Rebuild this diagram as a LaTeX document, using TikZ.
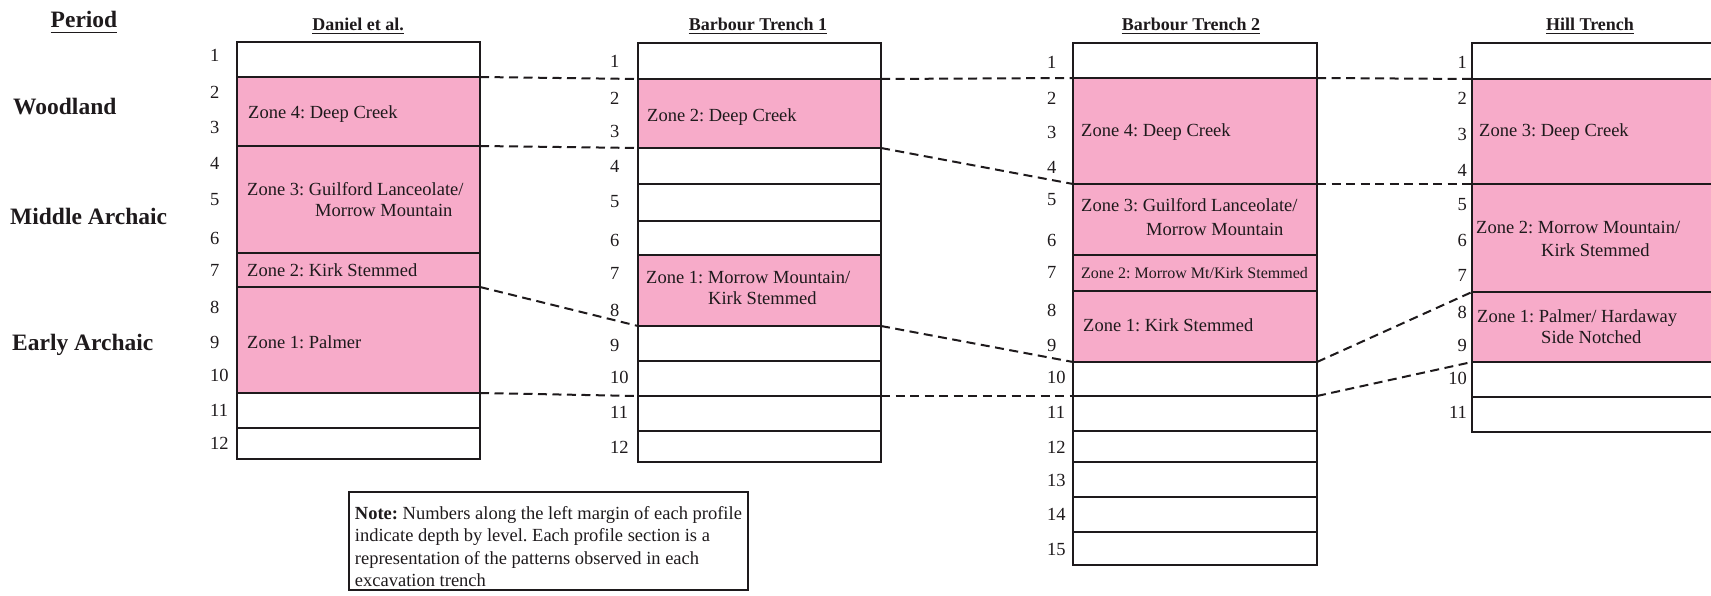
\documentclass[tikz,border=0pt]{standalone}
\usepackage{fontspec}
\setmainfont{Liberation Serif}
\frenchspacing
\definecolor{zonepink}{RGB}{247,171,201}
\definecolor{ink}{RGB}{30,26,28}
\tikzset{
  cell/.style={rectangle, draw=ink, line width=1.9pt, inner sep=0pt, outer sep=0pt,
               anchor=north west, fill=white},
  zonecell/.style={cell, fill=zonepink},
  num/.style={anchor=west, inner sep=0pt, text=ink, font=\fontsize{18.5}{22}\selectfont},
  numr/.style={num, anchor=east},
  zlabel/.style={anchor=west, inner sep=0pt, text=ink, text height=12.2pt, text depth=0pt,
                 font=\fontsize{18.5}{22}\selectfont},
  zsmall/.style={zlabel, text height=10.6pt, font=\fontsize{16}{19}\selectfont},
  head/.style={anchor=base, inner sep=0pt, text=ink, font=\fontsize{18}{22}\selectfont\bfseries},
  periodhead/.style={head, font=\fontsize{23.5}{28}\selectfont\bfseries},
  period/.style={anchor=west, inner sep=0pt, text=ink, text height=15.6pt, text depth=0pt,
                 font=\fontsize{23.5}{28}\selectfont\bfseries},
  uline/.style={draw=ink, line width=1.5pt},
  link/.style={draw=ink, line width=2pt, dash pattern=on 9pt off 5.5pt},
  notebox/.style={draw=ink, line width=1.9pt, anchor=north west, minimum width=399pt,
                  minimum height=98pt, inner sep=3pt, align=left,
                  text=ink, font=\fontsize{18.5}{22.5}\selectfont},
}
% one level band of a profile: name, left x, top y, bottom y, width, style
\newcommand{\stratum}[6]{\node[#6, minimum width=#5pt, minimum height=#4pt-#3pt] (#1) at (#2,#3) {};}

\begin{document}
\begin{tikzpicture}[x=1pt,y=-1pt]
\useasboundingbox (0,0) rectangle (1711,596);
\clip (0,0) rectangle (1711,596);

% ---------- period column ----------
\node[periodhead] (perh) at (84,28) {Period};
\draw[uline] ([yshift=-4.5pt]perh.base west) -- ([yshift=-4.5pt]perh.base east);
\node[period] (pwood) at (13,107) {Woodland};
\node[period] (pmid) at (10,217) {Middle Archaic};
\node[period] (pearly) at (12,343) {Early Archaic};

% ---------- Daniel et al. ----------
\node[head] (hdan) at (358,31) {Daniel et al.};
\draw[uline] ([yshift=-2.5pt]hdan.base west) -- ([yshift=-2.5pt]hdan.base east);
\stratum{d1}{237}{42}{77}{243}{cell}
\stratum{dz4}{237}{77}{146}{243}{zonecell}
\stratum{dz3}{237}{146}{253}{243}{zonecell}
\stratum{dz2}{237}{253}{287}{243}{zonecell}
\stratum{dz1}{237}{287}{393}{243}{zonecell}
\stratum{d11}{237}{393}{428}{243}{cell}
\stratum{d12}{237}{428}{459}{243}{cell}
\foreach \n/\y in {1/55,2/92,3/127,4/163,5/200,6/238,7/270,8/307,9/342,10/375,11/410,12/443}
  \node[num] (dn\n) at (210,\y) {\n};
\node[zlabel] (dt4) at (248,112) {Zone 4: Deep Creek};
\node[zlabel] (dt3) at (247,189) {Zone 3: Guilford Lanceolate/};
\node[zlabel] (dt3b) at (315,210) {Morrow Mountain};
\node[zlabel] (dt2) at (247,270) {Zone 2: Kirk Stemmed};
\node[zlabel] (dt1) at (247,342) {Zone 1: Palmer};

% ---------- Barbour Trench 1 ----------
\node[head] (hba) at (758,31) {Barbour Trench 1};
\draw[uline] ([yshift=-2.5pt]hba.base west) -- ([yshift=-2.5pt]hba.base east);
\stratum{a1}{638}{43}{79}{243}{cell}
\stratum{az2}{638}{79}{148}{243}{zonecell}
\stratum{a4}{638}{148}{184}{243}{cell}
\stratum{a5}{638}{184}{221}{243}{cell}
\stratum{a6}{638}{221}{255}{243}{cell}
\stratum{az1}{638}{255}{326}{243}{zonecell}
\stratum{a9}{638}{326}{361}{243}{cell}
\stratum{a10}{638}{361}{396}{243}{cell}
\stratum{a11}{638}{396}{431}{243}{cell}
\stratum{a12}{638}{431}{462}{243}{cell}
\foreach \n/\y in {1/61,2/98,3/131,4/166,5/202,6/240,7/273,8/310,9/345,10/377,11/412,12/447}
  \node[num] (an\n) at (610,\y) {\n};
\node[zlabel] (at2) at (647,115) {Zone 2: Deep Creek};
\node[zlabel] (at1) at (646,277) {Zone 1: Morrow Mountain/};
\node[zlabel] (at1b) at (708,298) {Kirk Stemmed};

% ---------- Barbour Trench 2 ----------
\node[head] (hbb) at (1191,31) {Barbour Trench 2};
\draw[uline] ([yshift=-2.5pt]hbb.base west) -- ([yshift=-2.5pt]hbb.base east);
\stratum{b1}{1073}{43}{78}{244}{cell}
\stratum{bz4}{1073}{78}{184}{244}{zonecell}
\stratum{bz3}{1073}{184}{255}{244}{zonecell}
\stratum{bz2}{1073}{255}{291}{244}{zonecell}
\stratum{bz1}{1073}{291}{362}{244}{zonecell}
\stratum{b10}{1073}{362}{396}{244}{cell}
\stratum{b11}{1073}{396}{431}{244}{cell}
\stratum{b12}{1073}{431}{462}{244}{cell}
\stratum{b13}{1073}{462}{497}{244}{cell}
\stratum{b14}{1073}{497}{532}{244}{cell}
\stratum{b15}{1073}{532}{565}{244}{cell}
\foreach \n/\y in {1/62,2/98,3/132,4/167,5/200,6/240,7/272,8/310,9/345,10/377,11/412,12/447,13/480,14/514,15/549}
  \node[num] (bn\n) at (1047,\y) {\n};
\node[zlabel] (bt4) at (1081,130) {Zone 4: Deep Creek};
\node[zlabel] (bt3) at (1081,205) {Zone 3: Guilford Lanceolate/};
\node[zlabel] (bt3b) at (1146,229) {Morrow Mountain};
\node[zsmall] (bt2) at (1081,273) {Zone 2: Morrow Mt/Kirk Stemmed};
\node[zlabel] (bt1) at (1083,325) {Zone 1: Kirk Stemmed};

% ---------- Hill Trench ----------
\node[head] (hhill) at (1590,31) {Hill Trench};
\draw[uline] ([yshift=-2.5pt]hhill.base west) -- ([yshift=-2.5pt]hhill.base east);
\stratum{h1}{1472}{43}{79}{250}{cell}
\stratum{hz3}{1472}{79}{184}{250}{zonecell}
\stratum{hz2}{1472}{184}{292}{250}{zonecell}
\stratum{hz1}{1472}{292}{362}{250}{zonecell}
\stratum{h10}{1472}{362}{397}{250}{cell}
\stratum{h11}{1472}{397}{432}{250}{cell}
\foreach \n/\y in {1/62,2/98,3/134,4/170,5/205,6/240,7/275,8/312,9/345,10/378,11/412}
  \node[numr] (hn\n) at (1467,\y) {\n};
\node[zlabel] (ht3) at (1479,130) {Zone 3: Deep Creek};
\node[zlabel] (ht2) at (1476,227) {Zone 2: Morrow Mountain/};
\node[zlabel] (ht2b) at (1541,250) {Kirk Stemmed};
\node[zlabel] (ht1) at (1477,316) {Zone 1: Palmer/ Hardaway};
\node[zlabel] (ht1b) at (1541,337) {Side Notched};

% ---------- correlation lines ----------
\draw[link] (dz4.north east) -- (az2.north west);
\draw[link] (dz4.south east) -- (az2.south west);
\draw[link] (dz2.south east) -- (az1.south west);
\draw[link] (dz1.south east) -- (a11.north west);

\draw[link] (az2.north east) -- (bz4.north west);
\draw[link] (az2.south east) -- (bz3.north west);
\draw[link] (az1.south east) -- (b10.north west);
\draw[link] (a11.north east) -- (b11.north west);

\draw[link] (bz4.north east) -- (hz3.north west);
\draw[link] (bz4.south east) -- (hz2.north west);
\draw[link] (b10.north east) -- (hz1.north west);
\draw[link] (b11.north east) -- (h10.north west);

% ---------- note ----------
\node[notebox] (note) at (348,491) {\rule{0pt}{24pt}\textbf{Note:} Numbers along the left margin of each profile\\
indicate depth by level. Each profile section is a\\
representation of the patterns observed in each\\
excavation trench};
\end{tikzpicture}
\end{document}
